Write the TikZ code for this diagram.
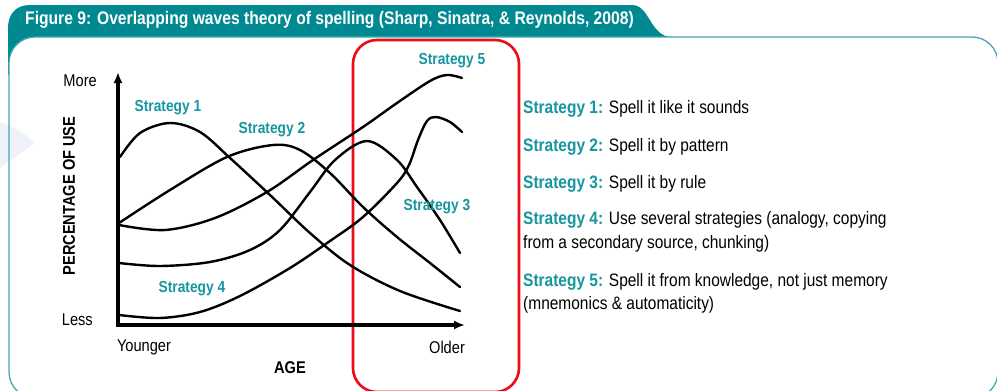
\documentclass[tikz,border=0pt]{standalone}
\usepackage{fontspec}
\setmainfont{Liberation Sans}[FakeStretch=0.86]
\usetikzlibrary{arrows.meta}
\definecolor{tealbar}{RGB}{0,137,145}
\definecolor{tealtxt}{RGB}{22,150,158}
\definecolor{tealline}{RGB}{70,168,176}
\definecolor{redbox}{RGB}{236,12,20}
\definecolor{lav}{RGB}{238,240,250}
\begin{document}
\begin{tikzpicture}[x=1pt,y=-1pt,
  curve/.style={line width=2.4pt, line cap=round, black},
  axis/.style={line width=3.3pt, black, {Latex[length=11pt,width=9pt]}-{Latex[length=11pt,width=9pt]}},
  slabel/.style={text=tealtxt, font=\bfseries\fontsize{16}{19}\selectfont, inner sep=0pt},
  axtext/.style={font=\fontsize{17}{20}\selectfont, inner sep=0pt},
  axbold/.style={font=\bfseries\fontsize{17}{20}\selectfont, inner sep=0pt},
  legend/.style={font=\fontsize{18}{21}\selectfont, inner sep=0pt, anchor=base west}]
\useasboundingbox (0,0) rectangle (997,391);
\clip (0,0) rectangle (997,391);
% tab
\fill[tealbar] (8,75) -- (8,28) .. controls (8,14) and (16,5) .. (30,5) -- (632,5)
  .. controls (650,5) and (650,37) .. (672,37) -- (60,37) -- (60,75) -- cycle;
\node[anchor=west, text=white, font=\bfseries\fontsize{18.2}{21}\selectfont, inner sep=0pt] (title) at (25,20)
  {Figure 9: Overlapping waves theory of spelling (Sharp, Sinatra, \& Reynolds, 2008)};
% panel
\fill[white, rounded corners=26] (9,37) rectangle (998,398);
\fill[lav] (0,122) .. controls (14,127) and (26,134) .. (34,143) .. controls (24,151) and (12,159) .. (0,168) -- cycle;
\draw[tealline, line width=1.3pt, rounded corners=26] (9,37) rectangle (998,398);
% red box
\draw[redbox, line width=2.6pt, rounded corners=24] (353,40) rectangle (519,392);
% curves
\draw[curve] plot[smooth, tension=0.55] coordinates {(120,157) (140,133) (170,123) (200,132) (230,158) (270,195) (310,233) (350,265) (400,291) (460,311)};
\draw[curve] plot[smooth, tension=0.55] coordinates {(119,223) (170,190) (227,157) (273,145) (300,150) (330,173) (363,207) (397,237) (430,263) (460,287)};
\draw[curve] plot[smooth, tension=0.55] coordinates {(119,225) (165,230) (215,218) (267,192) (313,160) (363,127) (397,103) (430,81) (447,75) (462,78)};
\draw[curve] plot[smooth, tension=0.55] coordinates {(119,263) (160,266) (210,262) (250,250) (280,230) (310,192) (335,160) (367,141) (397,160) (417,187) (440,220) (460,253)};
\draw[curve] plot[smooth, tension=0.55] coordinates {(119,315) (160,318) (200,312) (240,296) (290,268) (330,241) (363,217) (397,183) (409,165) (418,140) (427,121) (436,117) (450,122) (462,132)};
% axes
\coordinate (ytip) at (118,72);
\coordinate (origin) at (118,325);
\coordinate (xtip) at (465,325);
\draw[axis] (ytip) -- (origin) -- (xtip);
% axis labels
\node[axtext, anchor=east] (more) at (97,81) {More};
\node[axtext, anchor=east] (less) at (93,320) {Less};
\node[axbold, rotate=90] (pct) at (69,196) {PERCENTAGE OF USE};
\node[axtext] (younger) at (144,347) {Younger};
\node[axtext] (older) at (447,347) {Older};
\node[axbold] (age) at (290,368) {AGE};
% strategy labels
\node[slabel] (s1) at (168,108) {Strategy 1};
\node[slabel] (s2) at (272,130) {Strategy 2};
\node[slabel] (s3) at (437,207) {Strategy 3};
\node[slabel] (s4) at (192,289) {Strategy 4};
\node[slabel] (s5) at (452,61) {Strategy 5};
% legend
\node[legend] (l1) at (523,113) {\textcolor{tealtxt}{\bfseries Strategy 1:} Spell it like it sounds};
\node[legend] (l2) at (523,151) {\textcolor{tealtxt}{\bfseries Strategy 2:} Spell it by pattern};
\node[legend] (l3) at (523,188) {\textcolor{tealtxt}{\bfseries Strategy 3:} Spell it by rule};
\node[legend] (l4) at (523,224) {\textcolor{tealtxt}{\bfseries Strategy 4:} Use several strategies (analogy, copying};
\node[legend] (l4b) at (523,248) {from a secondary source, chunking)};
\node[legend] (l5) at (523,286) {\textcolor{tealtxt}{\bfseries Strategy 5:} Spell it from knowledge, not just memory};
\node[legend] (l5b) at (523,309) {(mnemonics \& automaticity)};
\end{tikzpicture}
\end{document}
